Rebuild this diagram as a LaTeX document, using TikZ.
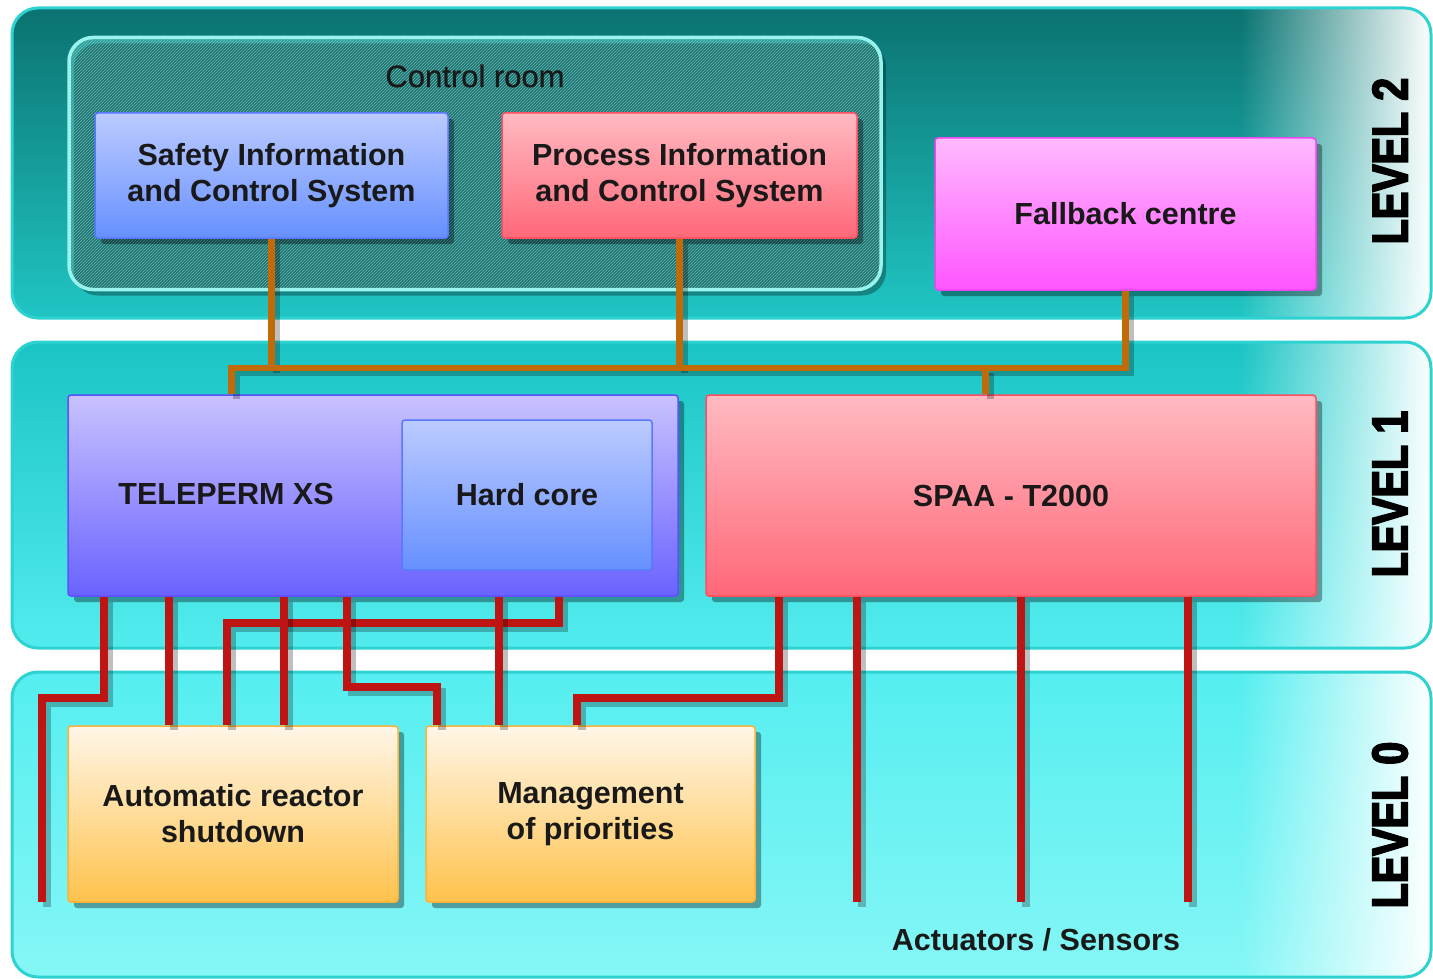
\documentclass[tikz,border=0pt]{standalone}
\usepackage{fontspec}
\setmainfont{Liberation Sans}
\newfontfamily\levelfont[FakeStretch=0.82,FakeBold=3.5]{Liberation Sans}
\newfontfamily\roomfont[FakeBold=0.8]{Liberation Sans}
\usetikzlibrary{shadows,fadings,patterns}

\definecolor{bandtwotop}{HTML}{0B7270}
\definecolor{bandtwobot}{HTML}{20C6C4}
\definecolor{bandonetop}{HTML}{1BC4C4}
\definecolor{bandonebot}{HTML}{52ECEE}
\definecolor{bandzerotop}{HTML}{55EEF0}
\definecolor{bandzerobot}{HTML}{86F6F6}
\definecolor{bandline}{HTML}{2ED2D0}
\definecolor{roombase}{HTML}{339F9B}
\definecolor{roomhatch}{HTML}{5CC2BD}
\definecolor{roomline}{HTML}{9AF4EE}
\definecolor{safetytop}{HTML}{BCCBFF}
\definecolor{safetybot}{HTML}{6690FF}
\definecolor{safetyline}{HTML}{5A78FF}
\definecolor{processtop}{HTML}{FFBAC2}
\definecolor{processbot}{HTML}{FF6878}
\definecolor{processline}{HTML}{FF4E60}
\definecolor{fallbacktop}{HTML}{FFBAFF}
\definecolor{fallbackbot}{HTML}{FF55FF}
\definecolor{fallbackline}{HTML}{E848F0}
\definecolor{teletop}{HTML}{C8C2FF}
\definecolor{telebot}{HTML}{6A62FF}
\definecolor{teleline}{HTML}{5C50FF}
\definecolor{arstop}{HTML}{FFF6E8}
\definecolor{arsbot}{HTML}{FFC24C}
\definecolor{arsline}{HTML}{FFB236}
\definecolor{wirered}{HTML}{BE1414}
\definecolor{busorange}{HTML}{C06A08}

\tikzfading[name=fade in east, left color=transparent!100, right color=transparent!0]

\newcommand\boxfont{\fontsize{30.5}{36}\selectfont\bfseries}

\tikzset{
  box/.style={draw=#1line, top color=#1top, bottom color=#1bot, line width=1.5,
    rounded corners=3, inner sep=0, align=center, font=\boxfont, text=black!90,
    drop shadow={shadow xshift=6pt, shadow yshift=-6pt, opacity=0.35, fill=black}},
  inset/.style={draw=#1line, top color=#1top, bottom color=#1bot, line width=1.5,
    rounded corners=3, inner sep=0, align=center, font=\boxfont, text=black!90},
  room/.style={draw=roomline, line width=3.5, rounded corners=24,
    preaction={fill=roombase}, pattern=north east lines, pattern color=roomhatch,
    drop shadow={shadow xshift=5pt, shadow yshift=-6pt, opacity=0.3, fill=black}},
  levellabel/.style={rotate=90, font=\levelfont\fontsize{50}{50}\selectfont\bfseries},
  wire/.style={draw=wirered, line width=8,
    preaction={draw=black, opacity=0.25, line width=8, transform canvas={shift={(5pt,-5pt)}}}},
  bus/.style={draw=busorange, line width=6.5,
    preaction={draw=black, opacity=0.25, line width=6.5, transform canvas={shift={(5pt,-5pt)}}}},
}

\begin{document}
\begin{tikzpicture}[x=1pt,y=1pt,yscale=-1]

\useasboundingbox (0,0) rectangle (1433,979);

% level bands
\shade [top color=bandtwotop, bottom color=bandtwobot, rounded corners=26] (12,8) rectangle (1431,318);
\begin{scope}
  \clip [rounded corners=26] (12,8) rectangle (1431,318);
  \fill [white, path fading=fade in east] (1240,8) rectangle (1433,318);
\end{scope}
\draw [bandline, line width=3, rounded corners=26] (12,8) rectangle (1431,318);

\shade [top color=bandonetop, bottom color=bandonebot, rounded corners=26] (12,342) rectangle (1431,648);
\begin{scope}
  \clip [rounded corners=26] (12,342) rectangle (1431,648);
  \fill [white, path fading=fade in east] (1240,342) rectangle (1433,648);
\end{scope}
\draw [bandline, line width=3, rounded corners=26] (12,342) rectangle (1431,648);

\shade [top color=bandzerotop, bottom color=bandzerobot, rounded corners=26] (12,672) rectangle (1431,977);
\begin{scope}
  \clip [rounded corners=26] (12,672) rectangle (1431,977);
  \fill [white, path fading=fade in east] (1240,672) rectangle (1433,977);
\end{scope}
\draw [bandline, line width=3, rounded corners=26] (12,672) rectangle (1431,977);

% level 2
\node [room, minimum width=812, minimum height=252] (room) at (475,163.5) {};
\node [font=\roomfont\fontsize{31}{36}\selectfont, text=black!90] (roomlabel) at (475,76) {Control room};
\node [box=safety, minimum width=353, minimum height=125] (sics) at (271.5,175.5) {Safety Information\\and Control System};
\node [box=process, minimum width=355, minimum height=125] (pics) at (679.5,175.5) {Process Information\\and Control System};
\node [box=fallback, minimum width=381, minimum height=152] (fall) at (1125.5,214) {Fallback centre};

% level 1
\node [box=tele, minimum width=610, minimum height=201] (tele) at (373,495.5) {};
\node [font=\boxfont, text=black!90] (telelabel) at (226,494) {TELEPERM XS};
\node [inset=safety, minimum width=250, minimum height=150] (hard) at (527,495) {Hard core};
\node [box=process, minimum width=610, minimum height=201] (spaa) at (1011,495.5) {SPAA - T2000};

% level 0
\node [box=ars, minimum width=330, minimum height=176] (ars) at (233,814) {Automatic reactor\\shutdown};
\node [box=ars, minimum width=329, minimum height=176] (prio) at (590.5,814) {Management\\of priorities};
\node [font=\boxfont, text=black!90] (act) at (1036,940) {Actuators / Sensors};
\coordinate (act0) at (42,902);

\node [levellabel] (lev2) at (1390,161) {LEVEL 2};
\node [levellabel] (lev1) at (1390,494) {LEVEL 1};
\node [levellabel] (lev0) at (1390,825) {LEVEL 0};

% orange bus
\coordinate (busy) at (680,368);
\draw [bus] (sics.south) -- (sics.south |- busy);
\draw [bus] (pics.south) -- (pics.south |- busy);
\draw [bus] ([xshift=164]tele.north west) |- (busy) -| (fall.south);
\draw [bus] ([xshift=280]spaa.north west) -- ([xshift=280]spaa.north west |- busy);

% red wires
\draw [wire] ([xshift=37]tele.south west) -- ++(0,101) -| (act0);
\draw [wire] ([xshift=102]tele.south west) -- ([xshift=102]tele.south west |- ars.north);
\draw [wire] ([xshift=492]tele.south west) -- ++(0,26) -| ([xshift=160]ars.north west);
\draw [wire] ([xshift=217]tele.south west) -- ([xshift=217]tele.south west |- ars.north);
\draw [wire] ([xshift=280]tele.south west) -- ++(0,90) -| ([xshift=12]prio.north west);
\draw [wire] ([xshift=432]tele.south west) -- ([xshift=432]tele.south west |- prio.north);
\draw [wire] ([xshift=74]spaa.south west) -- ++(0,101) -| ([xshift=152]prio.north west);
\draw [wire] ([xshift=152]spaa.south west) -- ([xshift=152]spaa.south west |- act0);
\draw [wire] ([xshift=316]spaa.south west) -- ([xshift=316]spaa.south west |- act0);
\draw [wire] ([xshift=483]spaa.south west) -- ([xshift=483]spaa.south west |- act0);

\end{tikzpicture}
\end{document}
